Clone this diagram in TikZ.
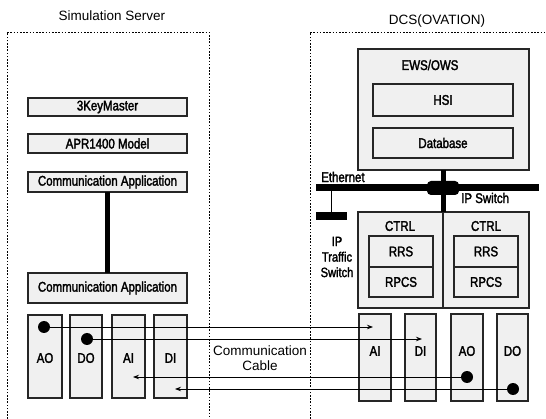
\documentclass[tikz,border=0pt]{standalone}
\usepackage{fontspec}
\setmainfont{Liberation Sans}
\newfontfamily\lblfont[FakeStretch=0.82,FakeBold=2]{Liberation Sans}
\usetikzlibrary{arrows.meta}
\tikzset{
  box/.style={draw=black!85, line width=1.1pt, fill=black!6, inner sep=0pt, outer sep=0pt, font=\lblfont\fontsize{14}{14}\selectfont},
  lbl/.style={inner sep=0pt, font=\lblfont\fontsize{14}{14}\selectfont, align=center},
  ttl/.style={inner sep=0pt, font=\fontsize{13.5}{15}\selectfont, align=center},
  dashbox/.style={line width=0.9pt, dash pattern=on 1.6pt off 1.6pt},
  dot/.style={circle, fill=black, inner sep=0pt, minimum size=12pt},
  sig/.style={line width=0.9pt, -{Stealth[length=6pt,width=4.5pt]}},
}
\begin{document}
\begin{tikzpicture}[x=1pt,y=-1pt]
\useasboundingbox (0,0) rectangle (546,419);
% dashed enclosures
\draw[dashbox] (7,419) -- (7,32) -- (209,32) -- (209,419);
\draw[dashbox] (310,419) -- (310,32) -- (546,32);
\node[ttl] (tsim) at (112,16) {Simulation Server};
\node[ttl] (tdcs) at (437,21) {DCS(OVATION)};
% left stack
\node[box, minimum width=159pt, minimum height=18pt] (km) at (107.5,107) {3KeyMaster};
\node[box, minimum width=159pt, minimum height=19pt] (apr) at (107.5,143.5) {APR1400 Model};
\node[box, minimum width=159pt, minimum height=20pt] (ca1) at (107.5,182) {Communication Application};
\node[box, minimum width=159pt, minimum height=30pt] (ca2) at (107.5,288) {Communication Application};
\draw[line width=5pt] (ca1.south) -- (ca2.north);
% left cards
\node[box, minimum width=34pt, minimum height=83pt] (lao) at (45,356.5) {};
\node[box, minimum width=32pt, minimum height=83pt] (ldo) at (86,356.5) {};
\node[box, minimum width=33pt, minimum height=83pt] (lai) at (128.5,356.5) {};
\node[box, minimum width=33pt, minimum height=83pt] (ldi) at (170.5,356.5) {};
\node[lbl] (tlao) at (45,358) {AO};
\node[lbl] (tldo) at (86,358) {DO};
\node[lbl] (tlai) at (128.5,358) {AI};
\node[lbl] (tldi) at (170.5,358) {DI};
% EWS/OWS
\node[box, minimum width=171pt, minimum height=121pt] (ews) at (443.5,109.5) {};
\node[lbl] (tews) at (430,65) {EWS/OWS};
\node[box, minimum width=140pt, minimum height=32pt] (hsi) at (443,100) {HSI};
\node[box, minimum width=140pt, minimum height=30pt] (db) at (443,143) {Database};
% CTRL
\node[box, minimum width=85pt, minimum height=96pt] (ctrla) at (400.5,260) {};
\node[box, minimum width=86pt, minimum height=96pt] (ctrlb) at (486,260) {};
\node[lbl] (tctrla) at (400,226) {CTRL};
\node[lbl] (tctrlb) at (486,226) {CTRL};
\node[box, minimum width=64pt, minimum height=31pt] (rrsa) at (401,251.5) {RRS};
\node[box, minimum width=64pt, minimum height=30pt] (rpcsa) at (401,282) {RPCS};
\node[box, minimum width=64pt, minimum height=31pt] (rrsb) at (486,251.5) {RRS};
\node[box, minimum width=64pt, minimum height=30pt] (rpcsb) at (486,282) {RPCS};
% network
\coordinate (ethl) at (316,188);
\coordinate (ethr) at (539,188);
\draw[line width=7pt] (ethl) -- (ethr);
\node[fill=black, rounded corners=4pt, minimum width=32pt, minimum height=14pt, inner sep=0pt] (ipsw) at (443,188) {};
\draw[line width=5pt] (ews.south) -- (ews.south |- ctrla.north);
\node[fill=black, minimum width=31pt, minimum height=8pt, inner sep=0pt] (ipts) at (331.5,216) {};
\draw[line width=1pt] (ipts.north) -- (ipts.north |- ethl);
\node[lbl, anchor=west] (teth) at (321,177) {Ethernet};
\node[lbl, anchor=west] (tipsw) at (461,198) {IP Switch};
\node[lbl, font=\lblfont\fontsize{13.5}{15.5}\selectfont] (tipts) at (337,257) {IP\\Traffic\\Switch};
% right cards
\node[box, minimum width=32pt, minimum height=87pt] (rai) at (375,357.5) {};
\node[box, minimum width=31pt, minimum height=87pt] (rdi) at (420.5,357.5) {};
\node[box, minimum width=32pt, minimum height=87pt] (rao) at (467,357.5) {};
\node[box, minimum width=31pt, minimum height=87pt] (rdo) at (512.5,357.5) {};
\node[lbl] (trai) at (375,351) {AI};
\node[lbl] (trdi) at (420.5,351) {DI};
\node[lbl] (trao) at (467,351) {AO};
\node[lbl] (trdo) at (512.5,351) {DO};
% signals
\node[dot] (dlao) at (44,327) {};
\node[dot] (dldo) at (87,339) {};
\node[dot] (drao) at (467,377) {};
\node[dot] (drdo) at (513,389) {};
\coordinate (erai) at (373,327);
\coordinate (erdi) at (422,339);
\coordinate (elai) at (133,377);
\coordinate (eldi) at (175,389);
\draw[sig] (dlao) -- (erai);
\draw[sig] (dldo) -- (erdi);
\draw[sig] (drao) -- (elai);
\draw[sig] (drdo) -- (eldi);
\node[ttl] (tcable) at (260,358) {Communication\\Cable};
\end{tikzpicture}
\end{document}
